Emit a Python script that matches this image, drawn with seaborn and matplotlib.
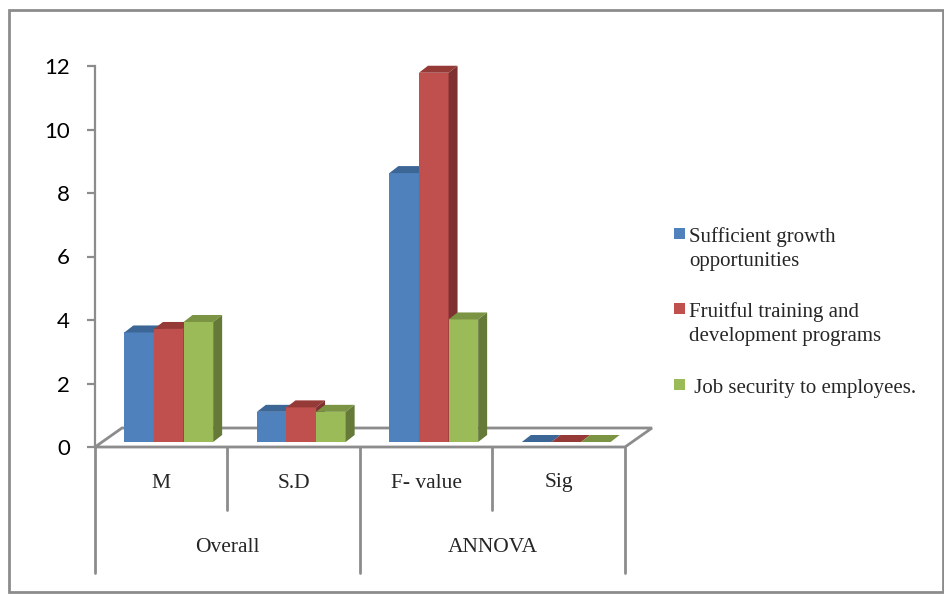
import numpy as np
import pandas as pd
import matplotlib
matplotlib.use("Agg")
import matplotlib.pyplot as plt
import matplotlib.transforms as mtransforms
from matplotlib.patches import Polygon, Rectangle
import seaborn as sns

# data
categories = ["M", "S.D", "F- value", "Sig"]
groups = ["Overall", "ANNOVA"]
series = ["Sufficient growth\nopportunities",
          "Fruitful training and\ndevelopment programs",
          " Job security to employees."]
growth = [3.45, 0.95, 8.47, 0.0]
training = [3.56, 1.09, 11.63, 0.0]
security = [3.78, 0.95, 3.86, 0.0]
y_ticks = [0, 2, 4, 6, 8, 10, 12]

front_cols = ["#4F81BD", "#C0504D", "#9BBB59"]
top_cols = ["#3C6696", "#963A37", "#7A9443"]
side_cols = ["#385D8A", "#7E3130", "#657A38"]
grey = "#8C8C8C"
serif = "Liberation Serif"

df = pd.DataFrame({
    "category": categories * 3,
    "series": np.repeat(series, len(categories)),
    "value": growth + training + security,
})

sns.set_style("white")
plt.rcParams["font.family"] = ["Liberation Serif", "DejaVu Sans"]

W, H = 945, 595
fig = plt.figure(figsize=(W / 100, H / 100), dpi=100)


def fx(px):
    return px / W


def fy(py):
    return 1 - py / H


# outer frame
fig.patches.append(Rectangle((fx(9), fy(592)), fx(943) - fx(9), fy(10) - fy(592),
                             transform=fig.transFigure, fill=False,
                             edgecolor=grey, lw=2))

ax_l, ax_r, ax_t, ax_b = 95, 625, 66, 447
ax = fig.add_axes([fx(ax_l), fy(ax_b), (ax_r - ax_l) / W, (ax_b - ax_t) / H])
ax.patch.set_alpha(0)

sns.barplot(data=df, x="category", y="value", hue="series", order=categories,
            hue_order=series, palette=front_cols, saturation=1, width=0.67,
            errorbar=None, legend=False, linewidth=0, edgecolor="none", ax=ax)
ax.set_xlim(-0.5, 3.5)
ax.set_ylim(0, 12)

# pixels -> data units
ppx = (ax_r - ax_l) / 4.0
ppy = (ax_b - ax_t) / 12.0
shift_x, base = 7.5 / ppx, 5 / ppy
ddx, ddy = 9 / ppx, 7 / ppy
fdx, fdy = 27 / ppx, 19 / ppy

# floor
floor = Polygon([(-0.5, 0), (3.5, 0), (3.5 + fdx, fdy), (-0.5 + fdx, fdy)],
                closed=True, facecolor="white", edgecolor=grey, lw=2,
                zorder=1, clip_on=False)
ax.add_patch(floor)

# 3D faces for each bar
for k, cont in enumerate(ax.containers):
    for bar in cont:
        x = bar.get_x() + shift_x
        w = bar.get_width()
        h = bar.get_height()
        bar.set_x(x)
        bar.set_y(base)
        bar.set_zorder(3 + k)
        bar.set_clip_on(False)
        top = Polygon([(x, base + h), (x + w, base + h),
                       (x + w + ddx, base + h + ddy), (x + ddx, base + h + ddy)],
                      closed=True, facecolor=top_cols[k], lw=0, zorder=3 + k,
                      clip_on=False)
        side = Polygon([(x + w, base), (x + w + ddx, base + ddy),
                        (x + w + ddx, base + h + ddy), (x + w, base + h)],
                       closed=True, facecolor=side_cols[k], lw=0, zorder=3 + k,
                       clip_on=False)
        ax.add_patch(top)
        ax.add_patch(side)

# axes styling
for s in ["top", "right", "bottom"]:
    ax.spines[s].set_visible(False)
ax.spines["left"].set_color(grey)
ax.spines["left"].set_linewidth(1.6)
ax.spines["left"].set_zorder(2)
ax.set_yticks(y_ticks)
ax.set_yticklabels([str(t) for t in y_ticks], family="Lato", fontsize=16)
ax.tick_params(axis="y", left=True, length=6, width=1.6, color=grey,
               pad=12, labelcolor="black")
ax.set_xticks([])
ax.set_xlabel("")
ax.set_ylabel("")

# category table below the floor
blend = mtransforms.blended_transform_factory(ax.transData, fig.transFigure)
for xv in [-0.5, 0.5, 1.5, 2.5, 3.5]:
    low = 510 if xv in (0.5, 2.5) else 573
    ax.plot([xv, xv], [fy(ax_b), fy(low)], transform=blend, color=grey,
            lw=2, clip_on=False, zorder=1)
for i, c in enumerate(categories):
    ax.text(i, fy(483), c, transform=blend, ha="center", va="center",
            fontsize=15.5, family=serif)
for j, g in enumerate(groups):
    ax.text(2 * j + 0.5, fy(547), g, transform=blend, ha="center",
            va="center", fontsize=15.5, family=serif)

# legend
leg_base = [242, 317, 393]
for k, lab in enumerate(series):
    b0 = leg_base[k]
    fig.patches.append(Rectangle((fx(674), fy(b0 - 3)), 11 / W, 11 / H,
                                 transform=fig.transFigure,
                                 facecolor=front_cols[k], lw=0))
    for n, line in enumerate(lab.split("\n")):
        fig.text(fx(689), fy(b0 + 24 * n), line, ha="left", va="baseline",
                 fontsize=15, family=serif)

fig.savefig("out.png", dpi=100)
